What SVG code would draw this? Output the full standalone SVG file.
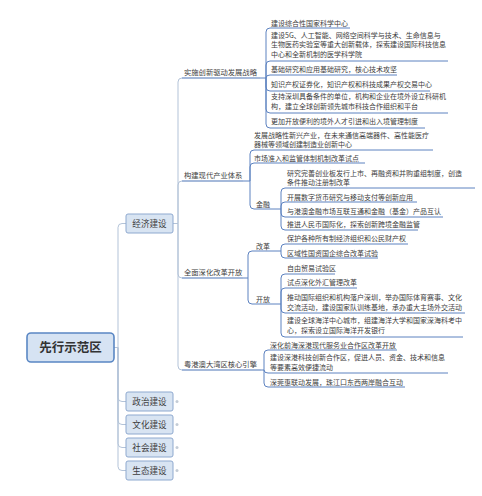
<svg xmlns="http://www.w3.org/2000/svg" width="482" height="496" viewBox="0 0 482 496">
<style>
text{font-family:"Noto Sans CJK SC","Noto Sans",sans-serif;fill:#3d3d3d}
.t3{font-size:7px}
.t2{font-size:7.3px}
.t1{font-size:8.6px;text-anchor:middle}
.t0{font-size:12.5px;font-weight:bold;text-anchor:middle;fill:#333}
.trunk{fill:none;stroke:#b3c3d8;stroke-width:1}
.ul{fill:none;stroke:#5d82c0;stroke-width:1}
.ul2{fill:none;stroke:#4d74b6;stroke-width:1.2}
.box1{fill:#d8e4f2;stroke:#8ea9cf;stroke-width:1}
.box0{fill:#d6e3f3;stroke:#5a87c4;stroke-width:1.6}
.dot{fill:#c4ccd6}
</style>
<rect width="482" height="496" fill="#ffffff"/>
<g id="connectors">
<path class="trunk" d="M114,347.5 H118 M118,347.5 V227.5 Q118,223.5 122,223.5 H126 M118,347.5 V397.5 Q118,401.5 122,401.5 H126 M118,347.5 V420.5 Q118,424.5 122,424.5 H126 M118,347.5 V443.5 Q118,447.5 122,447.5 H126 M118,347.5 V466.5 Q118,470.5 122,470.5 H126"/>
<path class="trunk" d="M173,223.5 H178 M178,223.5 V82 Q178,78 182,78 M178,223.5 V185 Q178,181 182,181 M178,223.5 V274 Q178,278 182,278 M178,223.5 V366 Q178,370 182,370"/>
<path class="ul2" d="M182,78 H260 M182,181 H243 M182,278 H243 M182,370 H261"/>
<path class="ul" d="M260,78 H266 M266,78 V32 Q266,28 270,28 H350 M266,78 V65 Q266,61 270,61 H448 M266,78 Q266,75 270,75 H397 M266,78 V87 Q266,91 270,91 H430 M266,78 V109 Q266,113 270,113 H448 M266,78 V124 Q266,128 270,128 H425"/>
<path class="ul" d="M243,181 H250 M250,181 V154 Q250,150 254,150 H433 M250,181 V167 Q250,163 254,163 H365 M250,181 V205 Q250,209 254,209 H274"/>
<path class="ul" d="M274,209 H281 M281,209 V192 Q281,188 285,188 H475 M281,209 V206 Q281,202 285,202 H417 M281,209 V213 Q281,217 285,217 H443 M281,209 V226 Q281,230 285,230 H418"/>
<path class="ul" d="M243,278 H248 M248,278 V255 Q248,251 252,251 H273 M248,278 V300 Q248,304 252,304 H273"/>
<path class="ul" d="M273,251 H281 M281,251 V248 Q281,244 285,244 H408 M281,251 V254 Q281,258 285,258 H378"/>
<path class="ul" d="M273,304 H281 M281,304 V278 Q281,274 285,274 H335 M281,304 V292 Q281,288 285,288 H357 M281,304 V309 Q281,313 285,313 H465 M281,304 V333 Q281,337 285,337 H463"/>
<path class="ul" d="M261,370 H264 M264,370 V354 Q264,350 268,350 H397 M264,370 Q264,373 268,373 H448 M264,370 V383 Q264,387 268,387 H405"/>
</g>
<g id="root"><rect class="box0" x="27" y="333" width="87" height="29" rx="4"/><text class="t0" x="70.5" y="352">先行示范区</text></g>
<g id="n-jingji"><rect class="box1" x="126" y="214" width="47" height="19" rx="2"/><text class="t1" x="149.5" y="226.5">经济建设</text></g>
<g id="n-zhengzhi"><rect class="box1" x="126" y="392" width="47" height="19" rx="2"/><text class="t1" x="149.5" y="404.5">政治建设</text><circle class="dot" cx="177" cy="401.5" r="1.5"/></g>
<g id="n-wenhua"><rect class="box1" x="126" y="415" width="47" height="19" rx="2"/><text class="t1" x="149.5" y="427.5">文化建设</text><circle class="dot" cx="177" cy="424.5" r="1.5"/></g>
<g id="n-shehui"><rect class="box1" x="126" y="438" width="47" height="19" rx="2"/><text class="t1" x="149.5" y="450.5">社会建设</text><circle class="dot" cx="177" cy="447.5" r="1.5"/></g>
<g id="n-shengtai"><rect class="box1" x="126" y="461" width="47" height="19" rx="2"/><text class="t1" x="149.5" y="473.5">生态建设</text><circle class="dot" cx="177" cy="470.5" r="1.5"/></g>
<g id="n-chuangxin"><text class="t2" x="184" y="75">实施创新驱动发展战略</text></g>
<g id="n-chanye"><text class="t2" x="184" y="178">构建现代产业体系</text></g>
<g id="n-gaige"><text class="t2" x="184" y="275">全面深化改革开放</text></g>
<g id="n-wanqu"><text class="t2" x="184" y="367">粤港澳大湾区核心引擎</text></g>
<g id="c1"><text class="t3" x="271" y="25.5">建设综合性国家科学中心</text></g>
<g id="c2"><text class="t3" x="271" y="37.5">建设5G、人工智能、网络空间科学与技术、生命信息与</text><text class="t3" x="271" y="47">生物医药实验室等重大创新载体，探索建设国际科技信息</text><text class="t3" x="271" y="56.5">中心和全新机制的医学科学院</text></g>
<g id="c3"><text class="t3" x="271" y="72">基础研究和应用基础研究，核心技术攻坚</text></g>
<g id="c4"><text class="t3" x="271" y="87">知识产权证券化，知识产权和科技成果产权交易中心</text></g>
<g id="c5"><text class="t3" x="271" y="99">支持深圳具备条件的单位，机构和企业在境外设立科研机</text><text class="t3" x="271" y="108.5">构，建立全球创新领先城市科技合作组织和平台</text></g>
<g id="c6"><text class="t3" x="271" y="124">更加开放便利的境外人才引进和出入境管理制度</text></g>
<g id="d1"><text class="t3" x="254" y="137.5">发展战略性新兴产业，在未来通信高端器件、高性能医疗</text><text class="t3" x="254" y="147">器械等领域创建制造业创新中心</text></g>
<g id="d2"><text class="t3" x="254" y="160.5">市场准入和监管体制机制改革试点</text></g>
<g id="d3"><text class="t3" x="256" y="206.5">金融</text></g>
<g id="f1"><text class="t3" x="287" y="175.5">研究完善创业板发行上市、再融资和并购重组制度，创造</text><text class="t3" x="287" y="185">条件推动注册制改革</text></g>
<g id="f2"><text class="t3" x="287" y="199.5">开展数字货币研究与移动支付等创新应用</text></g>
<g id="f3"><text class="t3" x="287" y="213.5">与港澳金融市场互联互通和金融（基金）产品互认</text></g>
<g id="f4"><text class="t3" x="287" y="227">推进人民币国际化，探索创新跨境金融监管</text></g>
<g id="e1"><text class="t3" x="256" y="249">改革</text></g>
<g id="e2"><text class="t3" x="256" y="302">开放</text></g>
<g id="g1"><text class="t3" x="287" y="240.5">保护各种所有制经济组织和公民财产权</text></g>
<g id="g2"><text class="t3" x="287" y="255.5">区域性国资国企综合改革试验</text></g>
<g id="h1"><text class="t3" x="287" y="270.5">自由贸易试验区</text></g>
<g id="h2"><text class="t3" x="287" y="284.5">试点深化外汇管理改革</text></g>
<g id="h3"><text class="t3" x="287" y="299.5">推动国际组织和机构落户深圳，举办国际体育赛事、文化</text><text class="t3" x="287" y="309.5">交流活动，建设国家队训练基地，承办重大主场外交活动</text></g>
<g id="h4"><text class="t3" x="287" y="322.5">建设全球海洋中心城市，组建海洋大学和国家深海科考中</text><text class="t3" x="287" y="332.5">心，探索设立国际海洋开发银行</text></g>
<g id="w1"><text class="t3" x="270" y="347.5">深化前海深港现代服务业合作区改革开放</text></g>
<g id="w2"><text class="t3" x="270" y="359.5">建设深港科技创新合作区，促进人员、资金、技术和信息</text><text class="t3" x="270" y="369.5">等要素高效便捷流动</text></g>
<g id="w3"><text class="t3" x="270" y="384.5">深莞惠联动发展，珠江口东西两岸融合互动</text></g>
</svg>
